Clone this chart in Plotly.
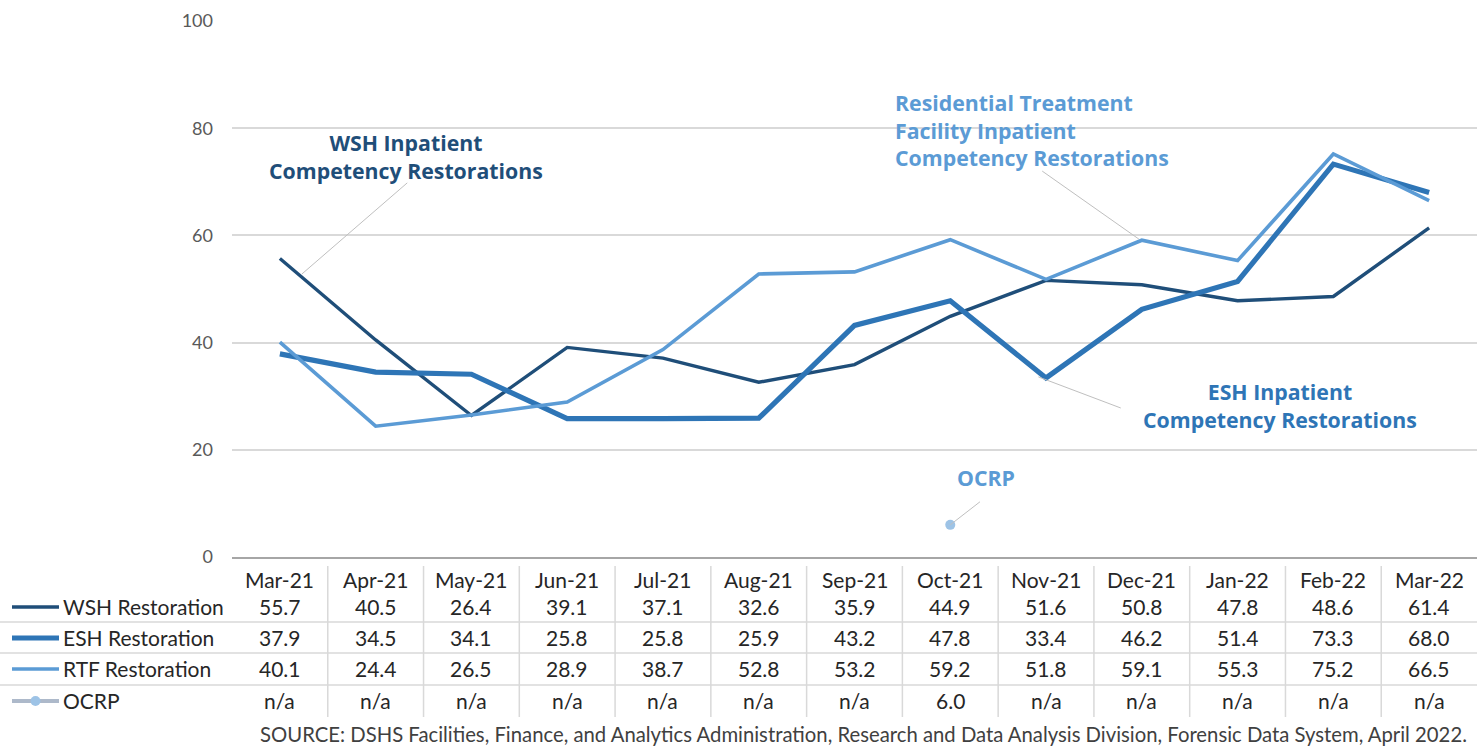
import plotly.graph_objects as go

months = ["Mar-21", "Apr-21", "May-21", "Jun-21", "Jul-21", "Aug-21", "Sep-21",
          "Oct-21", "Nov-21", "Dec-21", "Jan-22", "Feb-22", "Mar-22"]
wsh = [55.7, 40.5, 26.4, 39.1, 37.1, 32.6, 35.9, 44.9, 51.6, 50.8, 47.8, 48.6, 61.4]
esh = [37.9, 34.5, 34.1, 25.8, 25.8, 25.9, 43.2, 47.8, 33.4, 46.2, 51.4, 73.3, 68.0]
rtf = [40.1, 24.4, 26.5, 28.9, 38.7, 52.8, 53.2, 59.2, 51.8, 59.1, 55.3, 75.2, 66.5]
ocrp = [None, None, None, None, None, None, None, 6.0, None, None, None, None, None]
series_names = ["WSH Restoration", "ESH Restoration", "RTF Restoration", "OCRP"]
y_ticks = [0, 20, 40, 60, 80, 100]
source = ("SOURCE: DSHS Facilities, Finance, and Analytics Administration, Research and Data "
          "Analysis Division, Forensic Data System, April 2022.")

C_WSH = "#1F4E79"
C_ESH = "#2E75B6"
C_RTF = "#5B9BD5"
C_OCRP = "#9DC3E6"
FONT = "Lato"
LABEL_FONT = "Open Sans"

W, H = 1482, 747
x0_px, x1_px = 232, 1477
y0_px, y1_px = 557, 21

def px(x):
    return x / W

def py(y):
    return 1 - y / H

idx = list(range(len(months)))
fig = go.Figure()
fig.add_trace(go.Scatter(x=idx, y=wsh, mode="lines", line=dict(color=C_WSH, width=3.4), name=series_names[0]))
fig.add_trace(go.Scatter(x=idx, y=esh, mode="lines", line=dict(color=C_ESH, width=5.2), name=series_names[1]))
fig.add_trace(go.Scatter(x=idx, y=rtf, mode="lines", line=dict(color=C_RTF, width=3.6), name=series_names[2]))
fig.add_trace(go.Scatter(x=idx, y=ocrp, mode="markers", marker=dict(color=C_OCRP, size=10), name=series_names[3]))

annotations = []
shapes = []

# Callout labels
def label(x, y, text, color, xanchor="center", align="center"):
    annotations.append(dict(x=x, y=y, xref="x", yref="y", text="<b>" + text + "</b>", showarrow=False,
                            xanchor=xanchor, yanchor="middle", align=align,
                            font=dict(family=LABEL_FONT, size=21.3, color=color)))

label(1.316, 74.7, "WSH Inpatient<br>Competency Restorations", C_WSH)
label(6.40, 79.7, "Residential Treatment<br>Facility Inpatient<br>Competency Restorations", C_RTF,
      xanchor="left", align="left")
label(10.44, 28.2, "ESH Inpatient<br>Competency Restorations", C_ESH)
label(7.37, 14.9, "OCRP", C_RTF)

def leader(xa, ya, xb, yb):
    shapes.append(dict(type="line", xref="x", yref="y", x0=xa, y0=ya, x1=xb, y1=yb,
                       line=dict(color="#BFBFBF", width=1)))

leader(0.23, 52.8, 1.33, 69.8)
leader(7.96, 72.0, 8.97, 59.3)
leader(7.92, 33.6, 8.78, 27.8)
leader(7.0, 6.0, 7.31, 10.3)

# Data table
row_y = [579, 606, 637, 668, 700]
tbl_font = dict(family=FONT, size=21, color="#262626")
for i, m in enumerate(months):
    annotations.append(dict(x=i, y=py(row_y[0]), xref="x", yref="paper", text=m, showarrow=False,
                            xanchor="center", yanchor="middle", font=tbl_font))
    for r, vals in enumerate([wsh, esh, rtf, ocrp]):
        v = vals[i]
        txt = "n/a" if v is None else f"{v:.1f}"
        annotations.append(dict(x=i, y=py(row_y[r + 1]), xref="x", yref="paper", text=txt,
                                showarrow=False, xanchor="center", yanchor="middle", font=tbl_font))

for r, name in enumerate(series_names):
    annotations.append(dict(x=px(61), y=py(row_y[r + 1]), xref="paper", yref="paper", text=name,
                            showarrow=False, xanchor="left", yanchor="middle", font=tbl_font))

# legend keys
key_styles = [(C_WSH, 3.4), (C_ESH, 5.2), (C_RTF, 3.6), ("#ADB9CA", 4)]
for r, (c, w) in enumerate(key_styles):
    yk = py(row_y[r + 1] + 1)
    shapes.append(dict(type="line", xref="paper", yref="paper", x0=px(12), x1=px(59), y0=yk, y1=yk,
                       line=dict(color=c, width=w)))
yk = py(row_y[4] + 1)
shapes.append(dict(type="circle", xref="paper", yref="paper", x0=px(30.5), x1=px(40.5),
                   y0=yk - 5 / H, y1=yk + 5 / H, fillcolor=C_OCRP, line=dict(width=0)))

# table grid lines
for yl in [622, 653, 685]:
    shapes.append(dict(type="line", xref="paper", yref="paper", x0=px(0), x1=px(x1_px),
                       y0=py(yl), y1=py(yl), line=dict(color="#D9D9D9", width=1.5)))
for k in range(len(months) - 1):
    shapes.append(dict(type="line", xref="x", yref="paper", x0=k + 0.5, x1=k + 0.5,
                       y0=py(566), y1=py(717), line=dict(color="#D9D9D9", width=1.5)))

annotations.append(dict(x=px(864), y=py(734), xref="paper", yref="paper", text=source, showarrow=False,
                        xanchor="center", yanchor="middle",
                        font=dict(family=FONT, size=20.3, color="#404040")))

fig.update_layout(
    width=W, height=H, autosize=False,
    margin=dict(l=0, r=0, t=0, b=0, pad=0),
    paper_bgcolor="white", plot_bgcolor="white",
    showlegend=False,
    annotations=annotations,
    shapes=shapes,
    xaxis=dict(domain=[px(x0_px), px(x1_px)], range=[-0.5, len(months) - 0.5], automargin=False,
               showticklabels=False, showgrid=False, zeroline=False,
               showline=True, linecolor="#A6A6A6", linewidth=1.5, ticks=""),
    yaxis=dict(domain=[py(y0_px), py(y1_px)], range=[0, 100], tickvals=y_ticks, automargin=False,
               showgrid=True, gridcolor="#D9D9D9", gridwidth=1.5, zeroline=False,
               tickfont=dict(family=FONT, size=18, color="#595959"), ticklabelstandoff=18,
               showline=False),
)

fig.write_html("out.html", config={"responsive": False, "displayModeBar": False},
               post_script="document.body.style.margin='0';document.body.style.overflow='hidden';")
